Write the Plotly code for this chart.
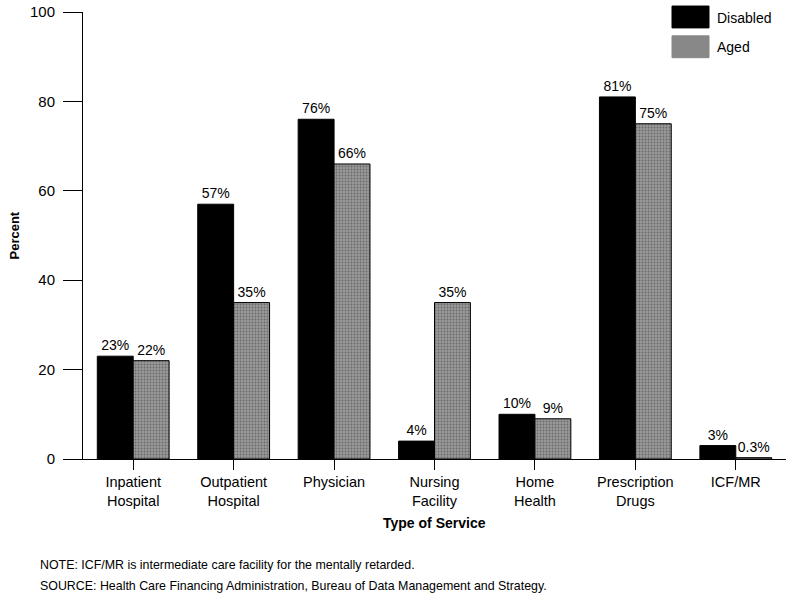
import plotly.graph_objects as go

categories = ["Inpatient<br>Hospital", "Outpatient<br>Hospital", "Physician", "Nursing<br>Facility",
              "Home<br>Health", "Prescription<br>Drugs", "ICF/MR"]
disabled = [23, 57, 76, 4, 10, 81, 3]
aged = [22, 35, 66, 35, 9, 75, 0.3]
disabled_labels = ["23%", "57%", "76%", "4%", "10%", "81%", "3%"]
aged_labels = ["22%", "35%", "66%", "35%", "9%", "75%", "0.3%"]
y_ticks = [0, 20, 40, 60, 80, 100]

FONT = "Liberation Sans, Arial, sans-serif"

fig = go.Figure()
fig.add_trace(go.Bar(
    x=categories, y=disabled, name="Disabled", text=disabled_labels,
    textposition="outside", cliponaxis=False,
    marker=dict(color="black", line=dict(color="black", width=1)),
    textfont=dict(size=14, color="black", family=FONT),
))
fig.add_trace(go.Bar(
    x=categories, y=aged, name="Aged", text=aged_labels,
    textposition="outside", cliponaxis=False,
    marker=dict(color="#888888", line=dict(color="black", width=1),
                pattern=dict(shape=".", bgcolor="#999999", fgcolor="#3a3a3a", size=3, solidity=0.3)),
    textfont=dict(size=14, color="black", family=FONT),
))

fig.update_layout(
    width=789, height=598,
    margin=dict(l=83, r=3, t=8, b=139),
    plot_bgcolor="white", paper_bgcolor="white",
    barmode="group", bargap=0.285, bargroupgap=0,
    showlegend=False, hovermode=False,
    font=dict(family=FONT, color="black", size=13),
)
fig.update_xaxes(
    showline=True, linecolor="black", linewidth=1,
    ticks="outside", ticklen=10, tickcolor="black",
    tickfont=dict(size=14.5, family=FONT),
    showgrid=False, range=[-0.5, 6.5],
)
fig.update_yaxes(
    range=[0, 100], tickvals=y_ticks, showline=True, linecolor="black", linewidth=1,
    ticks="outside", ticklen=19, tickcolor="black", ticklabelstandoff=5,
    ticklabeloverflow="allow",
    tickfont=dict(size=15, family=FONT), showgrid=False, zeroline=False,
)

PW, PH = 703, 450
# Legend drawn manually to match large swatches
fig.add_shape(type="rect", xref="paper", yref="paper",
              x0=(672 - 83) / PW, x1=(709 - 83) / PW, y0=(459 - 25) / PH, y1=(459 - 3) / PH,
              fillcolor="black", line=dict(color="black", width=1))
fig.add_shape(type="rect", xref="paper", yref="paper",
              x0=(672 - 83) / PW, x1=(709 - 83) / PW, y0=(459 - 55) / PH, y1=(459 - 33) / PH,
              fillcolor="#888888", line=dict(color="#888888", width=1))
fig.add_annotation(xref="paper", yref="paper", x=(715 - 83) / PW, y=(459 - 15) / PH,
                   text="Disabled", showarrow=False, xanchor="left", yanchor="middle",
                   font=dict(size=14, family=FONT))
fig.add_annotation(xref="paper", yref="paper", x=(715 - 83) / PW, y=(459 - 44) / PH,
                   text="Aged", showarrow=False, xanchor="left", yanchor="middle",
                   font=dict(size=14, family=FONT))

# Axis titles
fig.add_annotation(xref="paper", yref="paper", x=(434 - 83) / PW, y=-(523 - 459) / PH,
                   text="<b>Type of Service</b>", showarrow=False, xanchor="center", yanchor="middle",
                   font=dict(size=14, family=FONT))
fig.add_annotation(xref="paper", yref="paper", x=-(83 - 14) / PW, y=0.5,
                   text="<b>Percent</b>", showarrow=False, textangle=-90, xanchor="center", yanchor="middle",
                   font=dict(size=13, family=FONT))

# Notes
fig.add_annotation(xref="paper", yref="paper", x=-(83 - 38) / PW, y=-(566 - 459) / PH,
                   text="NOTE: ICF/MR is intermediate care facility for the mentally retarded.",
                   showarrow=False, xanchor="left", yanchor="middle", font=dict(size=12.4, family=FONT))
fig.add_annotation(xref="paper", yref="paper", x=-(83 - 38) / PW, y=-(587 - 459) / PH,
                   text="SOURCE: Health Care Financing Administration, Bureau of Data Management and Strategy.",
                   showarrow=False, xanchor="left", yanchor="middle", font=dict(size=12.4, family=FONT))

fig.write_html("out.html", config={"displayModeBar": False, "staticPlot": True},
               post_script="document.body.style.margin='0';document.body.style.overflow='hidden';")
